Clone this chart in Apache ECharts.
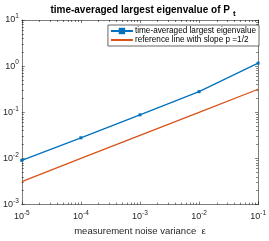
<!DOCTYPE html>
<html><head><meta charset="utf-8">
<script src="https://cdn.jsdelivr.net/npm/echarts@6/dist/echarts.min.js"></script>
<style>html,body{margin:0;padding:0;background:#fff}#c{width:269px;height:241px}</style>
</head><body><div id="c"></div>
<script>
var epsilon = [1e-5, 1e-4, 1e-3, 1e-2, 1e-1];
var lambdaAvg = [0.0091, 0.028, 0.088, 0.28, 1.16];
var refLine = [0.00316, 0.01, 0.0316, 0.1, 0.316];
var seriesNames = ['time-averaged largest eigenvalue', 'reference line with slope p =1/2'];

var FONT = '"Liberation Sans", Arial, sans-serif';
var AX = '#262626';
function expLabel(v) {
  var e = Math.round(Math.log10(v));
  return '10{sup|' + e + '}';
}
var richLbl = {
  sup: { fontSize: 6.5, fontFamily: FONT, color: AX, verticalAlign: 'top', padding: [0, 0, 7, 0] }
};
var chart = echarts.init(document.getElementById('c'), null, { renderer: 'canvas' });
var minorCommon = { show: true, splitNumber: 9, length: 2, lineStyle: { color: AX, width: 0.6 } };
chart.setOption({
  animation: false,
  backgroundColor: '#fff',
  title: {
    text: 'time-averaged largest eigenvalue of P{sub|t}',
    left: 138, textAlign: 'center', top: -2,
    textStyle: {
      fontFamily: FONT, fontSize: 10, fontWeight: 'bold', color: '#000',
      rich: { sub: { fontFamily: FONT, fontSize: 8, fontWeight: 'bold', color: '#000', padding: [7, 0, 0, 3] } }
    }
  },
  legend: {
    orient: 'vertical', right: 10, top: 25,
    data: seriesNames,
    backgroundColor: '#fff', borderColor: AX, borderWidth: 0.7, borderRadius: 0,
    padding: [2, 3, 2, 2], itemGap: 1, itemWidth: 22, itemHeight: 8,
    textStyle: { fontFamily: FONT, fontSize: 8.2, color: '#000', padding: [0, 0, 0, -3] }
  },
  grid: { left: 20, right: 7, top: 20, bottom: 33 },
  xAxis: [{
    type: 'log', logBase: 10, min: 1e-5, max: 1e-1,
    name: 'measurement noise variance  \u03b5', nameLocation: 'middle', nameGap: 16,
    nameTextStyle: { fontFamily: FONT, fontSize: 9.5, color: AX },
    axisLine: { lineStyle: { color: AX, width: 0.6 } },
    axisTick: { inside: true, length: 3, lineStyle: { color: AX, width: 0.6 } },
    minorTick: minorCommon,
    splitLine: { show: false },
    axisLabel: { formatter: expLabel, fontFamily: FONT, fontSize: 9, color: AX, margin: 5, rich: richLbl }
  }, {
    type: 'log', logBase: 10, min: 1e-5, max: 1e-1, position: 'top',
    axisLine: { lineStyle: { color: AX, width: 0.6 } },
    axisTick: { inside: true, length: 3, lineStyle: { color: AX, width: 0.6 } },
    minorTick: minorCommon,
    splitLine: { show: false }, axisLabel: { show: false }
  }],
  yAxis: [{
    type: 'log', logBase: 10, min: 1e-3, max: 10,
    axisLine: { show: true, lineStyle: { color: AX, width: 0.6 } },
    axisTick: { show: true, inside: true, length: 3, lineStyle: { color: AX, width: 0.6 } },
    minorTick: minorCommon,
    splitLine: { show: false },
    axisLabel: { formatter: expLabel, fontFamily: FONT, fontSize: 9, color: AX, margin: 3, rich: richLbl }
  }, {
    type: 'log', logBase: 10, min: 1e-3, max: 10, position: 'right',
    axisLine: { show: true, lineStyle: { color: AX, width: 0.6 } },
    axisTick: { show: true, inside: true, length: 3, lineStyle: { color: AX, width: 0.6 } },
    minorTick: minorCommon,
    splitLine: { show: false }, axisLabel: { show: false }
  }],
  series: [{
    name: seriesNames[0], type: 'line',
    data: epsilon.map(function (x, i) { return [x, lambdaAvg[i]]; }),
    color: '#0072BD', symbol: 'rect', symbolSize: 3, showSymbol: true,
    lineStyle: { width: 1.3, color: '#0072BD' }, itemStyle: { color: '#0072BD' }
  }, {
    name: seriesNames[1], type: 'line',
    data: epsilon.map(function (x, i) { return [x, refLine[i]]; }),
    color: '#D95319', symbol: 'circle', showSymbol: false, symbolSize: 0,
    lineStyle: { width: 1.3, color: '#D95319' }, itemStyle: { color: '#D95319', opacity: 0 }
  }]
});
</script></body></html>
